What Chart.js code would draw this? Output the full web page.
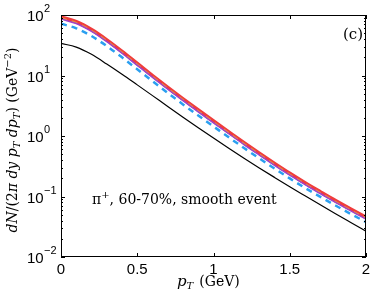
<!DOCTYPE html>
<html>
<head>
<meta charset="utf-8">
<script src="https://cdn.jsdelivr.net/npm/chart.js@4"></script>
<style>
  html, body { margin: 0; padding: 0; background: #fff; }
  #wrap { width: 374px; height: 291px; }
</style>
</head>
<body>
<div id="wrap"><canvas id="spec" width="374" height="291"></canvas></div>
<script>
// transverse momentum (GeV)
const pT = [0, 0.1, 0.2, 0.3, 0.4, 0.5, 0.6, 0.7, 0.8, 0.9, 1.0,
            1.1, 1.2, 1.3, 1.4, 1.5, 1.6, 1.7, 1.8, 1.9, 2.0];
// spectra
const redSolid = [92.3, 77.6, 57.5, 38.9, 25.1, 15.8, 10.0, 6.38, 4.12, 2.69, 1.77,
                  1.17, 0.776, 0.521, 0.353, 0.242, 0.169, 0.120, 0.0857, 0.0621, 0.0455];
const orangeDash = [88.1, 74.1, 54.9, 37.1, 24.0, 15.1, 9.55, 6.09, 3.93, 2.57, 1.69,
                    1.12, 0.741, 0.498, 0.337, 0.231, 0.161, 0.115, 0.0818, 0.0593, 0.0435];
const purpleSolid = [85.8, 72.2, 53.5, 36.2, 23.3, 14.7, 9.3, 5.93, 3.83, 2.50, 1.65,
                     1.09, 0.722, 0.485, 0.328, 0.225, 0.157, 0.112, 0.0797, 0.0578, 0.0423];
const blueDash = [71.6, 60.3, 44.9, 30.7, 19.95, 12.7, 8.04, 5.15, 3.33, 2.18, 1.44,
                  0.951, 0.634, 0.427, 0.290, 0.199, 0.139, 0.0989, 0.0710, 0.0515, 0.0378];
const blackSolid = [33.9, 29.5, 22.4, 15.5, 10.5, 7.0, 4.65, 3.08, 2.05, 1.37, 0.923,
                    0.627, 0.430, 0.297, 0.207, 0.145, 0.1026, 0.0728, 0.0519, 0.0372, 0.0267];

const xTicks = [0, 0.5, 1, 1.5, 2];
const xTickLabels = ['0', '0.5', '1', '1.5', '2'];
const yExps = [2, 1, 0, -1, -2];

function pts(arr) { return pT.map((x, i) => ({ x: x, y: arr[i] })); }

const serif = '"DejaVu Serif", "Liberation Serif", serif';
const sans = '"Liberation Sans", Arial, sans-serif';

// draws frame, ticks, labels and titles using the chart's own scales
const frame = {
  id: 'frame',
  afterDatasetsDraw(chart) {
    const c = chart.ctx, a = chart.chartArea;
    const xs = chart.scales.x, ys = chart.scales.y;
    c.save();
    c.strokeStyle = '#000';
    c.lineWidth = 1;
    c.strokeRect(a.left + 0.5, a.top + 0.5, a.right - a.left - 1, a.bottom - a.top - 1);

    // x ticks inward top and bottom
    xTicks.forEach(v => {
      const px = Math.round(xs.getPixelForValue(v)) + 0.5;
      c.beginPath();
      c.moveTo(px, a.bottom); c.lineTo(px, a.bottom - 4);
      c.moveTo(px, a.top); c.lineTo(px, a.top + 4);
      c.stroke();
    });
    // y log ticks inward left and right
    for (let e = -2; e < 2; e++) {
      for (let m = 1; m <= 10; m++) {
        const py = Math.round(ys.getPixelForValue(m * Math.pow(10, e))) + 0.5;
        const len = (m === 1 || m === 10) ? 4 : 2;
        c.beginPath();
        c.moveTo(a.left, py); c.lineTo(a.left + len, py);
        c.moveTo(a.right, py); c.lineTo(a.right - len, py);
        c.stroke();
      }
    }

    c.fillStyle = '#000';
    // x tick labels
    c.font = '15px ' + sans;
    c.textAlign = 'center';
    c.textBaseline = 'alphabetic';
    xTicks.forEach((v, i) => {
      c.fillText(xTickLabels[i], xs.getPixelForValue(v), a.bottom + 17);
    });
    // y tick labels 10^n
    yExps.forEach(e => {
      const py = ys.getPixelForValue(Math.pow(10, e));
      c.textAlign = 'left';
      c.font = '15px ' + sans;
      c.fillText('10', 27, py + 6);
      c.font = '11px ' + sans;
      c.fillText(e < 0 ? '\u2212' + (-e) : String(e), 44, py - 3);
    });

    // x title
    c.textAlign = 'left';
    let x = 177, y = 286;
    c.font = 'italic 15px ' + serif; c.fillText('p', x, y); x += c.measureText('p').width;
    c.font = 'italic 10px ' + serif; c.fillText('T', x, y + 3); x += c.measureText('T').width + 6;
    c.font = '14px ' + serif; c.fillText('(GeV)', x, y);

    // y title, rotated
    c.save();
    c.translate(17, 140);
    c.rotate(-Math.PI / 2);
    const parts = [
      ['italic 14px ', 'dN', 0], ['14px ', '/(2', 0], ['italic 14px ', '\u03c0 dy p', 0],
      ['italic 10px ', 'T', 3], ['italic 14px ', ' dp', 0], ['italic 10px ', 'T', 3],
      ['14px ', ') (GeV', 0], ['10px ', '\u22122', -6], ['14px ', ')', 0]
    ];
    let w = 0;
    parts.forEach(p => { c.font = p[0] + serif; w += c.measureText(p[1]).width; });
    let cx = -w / 2;
    parts.forEach(p => {
      c.font = p[0] + serif;
      c.fillText(p[1], cx, p[2]);
      cx += c.measureText(p[1]).width;
    });
    c.restore();

    // annotations
    c.font = '15px ' + serif;
    c.textAlign = 'right';
    c.fillText('(c)', a.right - 3, a.top + 24);
    c.textAlign = 'left';
    c.font = '14px ' + serif;
    let tx = 92, ty = 204;
    c.fillText('\u03c0', tx, ty); tx += c.measureText('\u03c0').width;
    c.font = '10px ' + serif; c.fillText('+', tx, ty - 6); tx += c.measureText('+').width;
    c.font = '14px ' + serif; c.fillText(', 60-70%, smooth event', tx, ty);
    c.restore();
  }
};

new Chart(document.getElementById('spec'), {
  type: 'line',
  data: {
    datasets: [
      { label: 'black', data: pts(blackSolid), borderColor: '#000000', borderWidth: 1.2 },
      { label: 'blue', data: pts(blueDash), borderColor: '#2a9ff0', borderWidth: 2.5, borderDash: [6, 5] },
      { label: 'purple', data: pts(purpleSolid), borderColor: '#a040c8', borderWidth: 1.5 },
      { label: 'orange', data: pts(orangeDash), borderColor: '#e8963a', borderWidth: 2, borderDash: [6, 5] },
      { label: 'red', data: pts(redSolid), borderColor: '#f03c3c', borderWidth: 3.5 }
    ]
  },
  options: {
    responsive: false,
    animation: false,
    layout: { padding: { left: 61, right: 8, top: 15, bottom: 34 } },
    elements: { point: { radius: 0 }, line: { tension: 0.4, cubicInterpolationMode: 'monotone', fill: false } },
    plugins: { legend: { display: false }, tooltip: { enabled: false } },
    scales: {
      x: { type: 'linear', min: 0, max: 2, display: false },
      y: { type: 'logarithmic', min: 0.01, max: 100, display: false }
    }
  },
  plugins: [frame]
});
</script>
</body>
</html>
